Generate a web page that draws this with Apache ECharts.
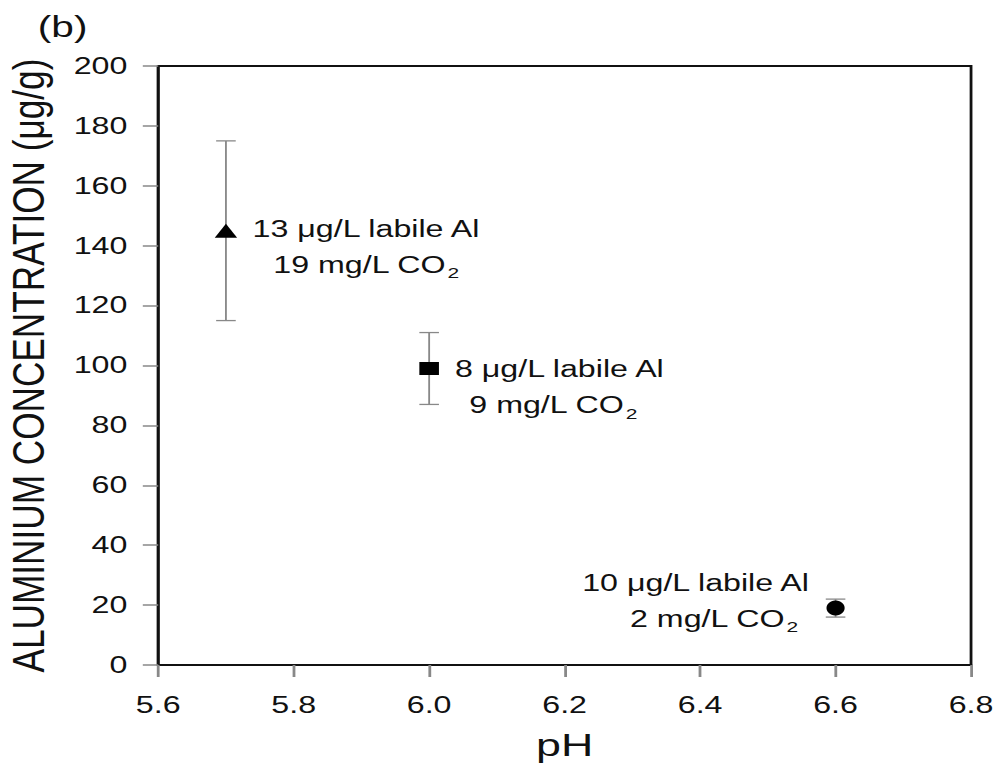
<!DOCTYPE html>
<html><head><meta charset="utf-8">
<script src="https://cdn.jsdelivr.net/npm/echarts@6/dist/echarts.min.js"></script>
<style>
html,body{margin:0;padding:0;background:#fff;overflow:hidden}
#c{width:710px;height:765px;transform:scaleX(1.4);transform-origin:0 0}
</style>
</head><body><div id="c"></div>
<script>
const pH = [5.7, 6.0, 6.6];
const aluminium = [145, 99, 19];
const errLow = [115, 87, 16];
const errHigh = [175, 111, 22];
const labileAl = ['13', '8', '10'];
const co2 = ['19', '9', '2'];
const symbols = ['triangle', 'rect', 'circle'];
const xTicks = ['5.6', '5.8', '6.0', '6.2', '6.4', '6.6', '6.8'];
const yTicks = [0, 20, 40, 60, 80, 100, 120, 140, 160, 180, 200];
const yTitle = 'ALUMINIUM CONCENTRATION (\u03bcg/g)';
const xTitle = 'pH';
const panel = '(b)';

// drawing is done at 1/1.4 horizontal scale, then stretched by CSS like the reference
const symbolSizes = [[16, 14], [14, 13], [13, 15]];
const labelOffsets = [[100, 16], [93, 19], [-100, -7]];
const line2PadLeft = [0, 0, 26];
const line2PadRight = [0, 9, 0];

const FONT = 'Liberation Sans, Arial, sans-serif';
const chart = echarts.init(document.getElementById('c'), null, {renderer: 'svg'});

const pts = pH.map((x, i) => ({
  value: [x, aluminium[i]],
  symbol: symbols[i],
  symbolSize: symbolSizes[i],
  label: {
    show: true, position: 'inside', offset: labelOffsets[i],
    formatter: '{t|' + labileAl[i] + ' \u03bcg/L labile Al}\n{l2|' + co2[i] + ' mg/L CO}{s|2}',
    rich: {
      t: {fontSize: 23, fontFamily: FONT, color: '#111', lineHeight: 36},
      l2: {fontSize: 23, fontFamily: FONT, color: '#111', lineHeight: 36, padding: [0, 0, 0, line2PadLeft[i]]},
      s: {fontSize: 15, fontFamily: FONT, color: '#111', lineHeight: 36, padding: [16, line2PadRight[i], 0, 1]}
    }
  }
}));

chart.setOption({
  animation: false,
  graphic: [
    {type: 'text', left: 27, top: 12, style: {text: panel, font: '29px ' + FONT, fill: '#111'}},
    {type: 'text', x: 20.7, y: 365.5, rotation: Math.PI / 2, scaleX: 1.1,
      style: {text: yTitle, font: '32px ' + FONT, fill: '#111', align: 'center', verticalAlign: 'middle'}}
  ],
  grid: {left: 113, right: 16.4, top: 66, bottom: 100, containLabel: false, outerBoundsMode: 'none',
    show: true, borderColor: '#111', borderWidth: 2, backgroundColor: 'transparent'},
  xAxis: {
    type: 'value', min: 5.6, max: 6.8, interval: 0.2,
    name: xTitle, nameLocation: 'middle', nameGap: 66,
    nameTextStyle: {fontSize: 32, lineHeight: 28, color: '#111', fontFamily: FONT},
    axisLine: {show: true, lineStyle: {color: '#111', width: 2}},
    axisTick: {show: true, length: 12, lineStyle: {color: '#888', width: 2}},
    axisLabel: {fontSize: 23, color: '#111', fontFamily: FONT, margin: 29,
      formatter: v => xTicks.find(t => Math.abs(parseFloat(t) - v) < 1e-6) || ''},
    splitLine: {show: false}
  },
  yAxis: {
    type: 'value', min: 0, max: 200, interval: 20,
    axisLine: {show: true, lineStyle: {color: '#111', width: 2}},
    axisTick: {show: true, length: 11, lineStyle: {color: '#888', width: 1.5}},
    axisLabel: {fontSize: 23, color: '#111', fontFamily: FONT, margin: 22,
      formatter: v => yTicks.includes(v) ? String(v) : ''},
    splitLine: {show: false}
  },
  series: [
    {
      type: 'custom',
      renderItem: (params, api) => {
        const x = api.value(0);
        const lo = api.coord([x, api.value(1)]);
        const hi = api.coord([x, api.value(2)]);
        const w = 7;
        const st = {stroke: '#888', lineWidth: 1.3};
        return {type: 'group', children: [
          {type: 'line', shape: {x1: lo[0], y1: lo[1], x2: hi[0], y2: hi[1]}, style: st},
          {type: 'line', shape: {x1: lo[0] - w, y1: lo[1], x2: lo[0] + w, y2: lo[1]}, style: st},
          {type: 'line', shape: {x1: hi[0] - w, y1: hi[1], x2: hi[0] + w, y2: hi[1]}, style: st}
        ]};
      },
      data: pH.map((x, i) => [x, errLow[i], errHigh[i]]),
      z: 1
    },
    {
      type: 'scatter',
      itemStyle: {color: '#000', opacity: 1},
      data: pts,
      label: {color: '#111', align: 'center', verticalAlign: 'middle'},
      z: 3
    }
  ]
});
</script></body></html>
